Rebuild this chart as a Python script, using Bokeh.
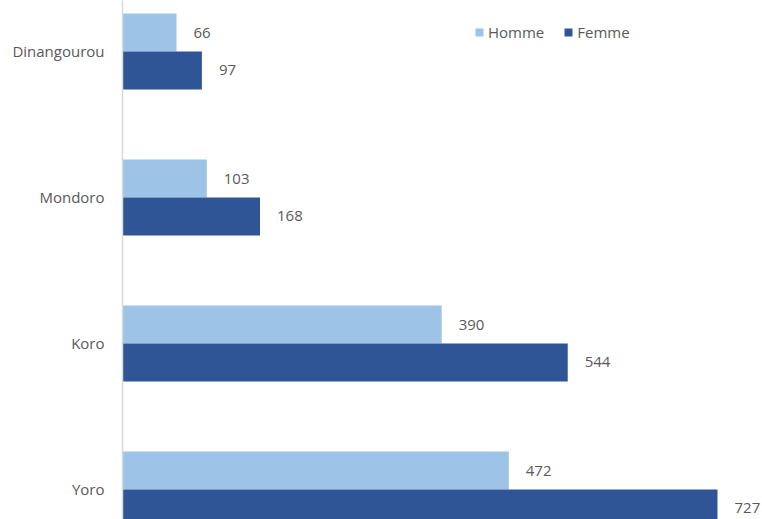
from bokeh.plotting import figure
from bokeh.models import Range1d, FixedTicker, Legend, LegendItem, ColumnDataSource
from bokeh.core.properties import value
from bokeh.embed import file_html
from bokeh.resources import INLINE

categories = ["Dinangourou", "Mondoro", "Koro", "Yoro"]
homme = [66, 103, 390, 472]
femme = [97, 168, 544, 727]
series = ["Homme", "Femme"]

C_H = "#9DC3E6"
C_F = "#2F5597"
FONT = "Open Sans"
TXT = "#595959"

n = len(categories)
pos = [n - 1 - i for i in range(n)]  # top to bottom
bar_h = 0.26
off = 0.13

src_h = ColumnDataSource(dict(y=[p + off for p in pos], v=homme, t=[str(v) for v in homme]))
src_f = ColumnDataSource(dict(y=[p - off for p in pos], v=femme, t=[str(v) for v in femme]))

p = figure(width=762, height=519, output_backend="svg", toolbar_location=None,
           x_range=Range1d(0, 782), y_range=Range1d(-0.2055, 3.3493),
           min_border_left=122, min_border_right=0, min_border_top=0, min_border_bottom=0)
p.outline_line_color = None
p.grid.visible = False
p.xaxis.visible = False

rh = p.hbar(y="y", right="v", left=0, height=bar_h, source=src_h, fill_color=C_H, line_color=None)
rf = p.hbar(y="y", right="v", left=0, height=bar_h, source=src_f, fill_color=C_F, line_color=None)

for s in (src_h, src_f):
    p.text(x="v", y="y", text="t", source=s, x_offset=17, text_align="left", text_baseline="middle",
           text_font=value(FONT), text_font_size="15px", text_color=TXT)

ya = p.yaxis[0]
ya.ticker = FixedTicker(ticks=pos)
ya.major_label_overrides = {pp: c for pp, c in zip(pos, categories)}
ya.major_tick_line_color = None
ya.minor_tick_line_color = None
ya.axis_line_color = "#D9D9D9"
ya.axis_line_width = 1.5
ya.major_label_text_font = FONT
ya.major_label_text_font_size = "15px"
ya.major_label_text_color = TXT
ya.major_label_standoff = 12

legend = Legend(items=[LegendItem(label=series[0], renderers=[rh]), LegendItem(label=series[1], renderers=[rf])],
                orientation="horizontal", location=(352, 477), border_line_color=None,
                background_fill_alpha=0, padding=0, margin=0, spacing=19,
                glyph_width=10, glyph_height=10, label_standoff=4,
                label_text_font=FONT, label_text_font_size="15px", label_text_color=TXT)
p.add_layout(legend, "center")

open("out.html", "w").write(file_html(p, INLINE))
